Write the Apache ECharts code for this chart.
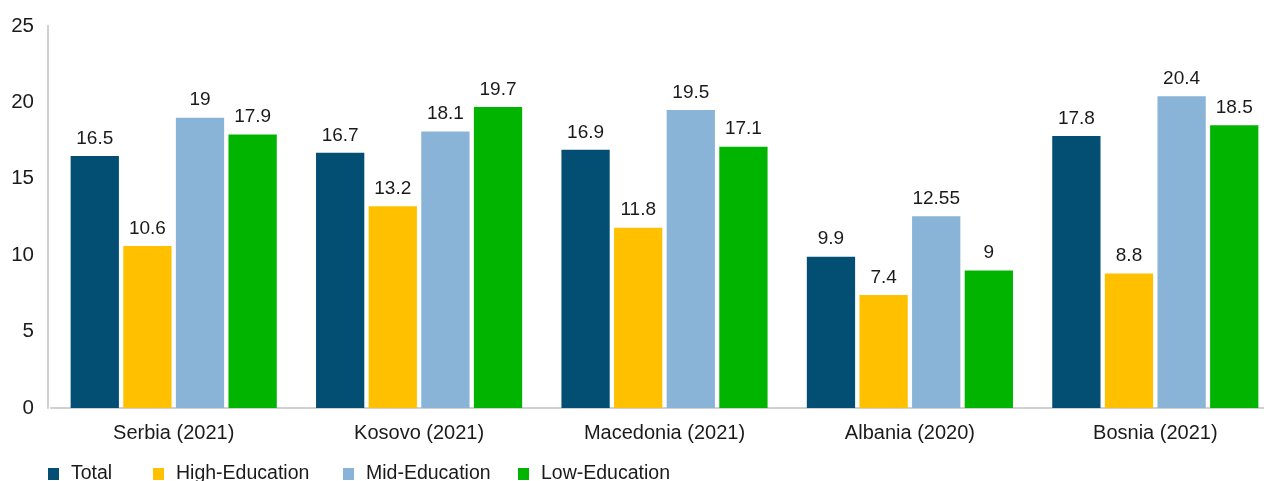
<!DOCTYPE html>
<html><head><meta charset="utf-8">
<script src="https://cdn.jsdelivr.net/npm/echarts@6/dist/echarts.min.js"></script>
<style>html,body{margin:0;padding:0;background:#fff;overflow:hidden}#c{width:1290px;height:481px}</style>
</head><body><div id="c"></div>
<script>
const categories = ['Serbia (2021)', 'Kosovo (2021)', 'Macedonia (2021)', 'Albania (2020)', 'Bosnia (2021)'];
const seriesNames = ['Total', 'High-Education', 'Mid-Education', 'Low-Education'];
const totalVals = [16.5, 16.7, 16.9, 9.9, 17.8];
const highVals = [10.6, 13.2, 11.8, 7.4, 8.8];
const midVals = [19, 18.1, 19.5, 12.55, 20.4];
const lowVals = [17.9, 19.7, 17.1, 9, 18.5];
const yTicks = [0, 5, 10, 15, 20, 25];

const colors = ['#024f73', '#ffc000', '#8ab4d7', '#00b400'];
const legendLefts = [43, 148, 338, 513];
const font = '"Liberation Sans", Arial, sans-serif';
const txt = '#1a1a1a';
const chart = echarts.init(document.getElementById('c'), null, {renderer: 'canvas'});
const mk = (name, data, i) => ({
  name, type: 'bar', data, barGap: '9%', barCategoryGap: '16%',
  itemStyle: {color: colors[i]},
  label: {show: true, position: 'top', distance: 8, color: txt, fontSize: 19, fontFamily: font}
});
chart.setOption({
  animation: false,
  textStyle: {fontFamily: font},
  legend: seriesNames.map((n, i) => ({
    left: legendLefts[i], top: 459, itemWidth: 11, itemHeight: 12,
    icon: 'rect', selectedMode: false,
    textStyle: {color: txt, fontSize: 19.5, fontFamily: font, padding: [0, 0, 0, 7]},
    data: [n]
  })),
  grid: {left: 51, top: 26, right: 12, height: 382, containLabel: false},
  xAxis: {
    type: 'category', data: categories,
    axisLine: {lineStyle: {color: '#d0d0d0', width: 2}},
    axisTick: {show: false},
    axisLabel: {color: txt, fontSize: 20, fontFamily: font, margin: 15}
  },
  yAxis: {
    type: 'value', min: yTicks[0], max: yTicks[yTicks.length - 1], interval: 5,
    offset: 3,
    axisLine: {show: true, lineStyle: {color: '#d0d0d0', width: 2}},
    axisTick: {show: false},
    splitLine: {show: false},
    axisLabel: {color: txt, fontSize: 20.5, fontFamily: font, margin: 14}
  },
  series: [mk(seriesNames[0], totalVals, 0), mk(seriesNames[1], highVals, 1), mk(seriesNames[2], midVals, 2), mk(seriesNames[3], lowVals, 3)]
});
</script></body></html>
